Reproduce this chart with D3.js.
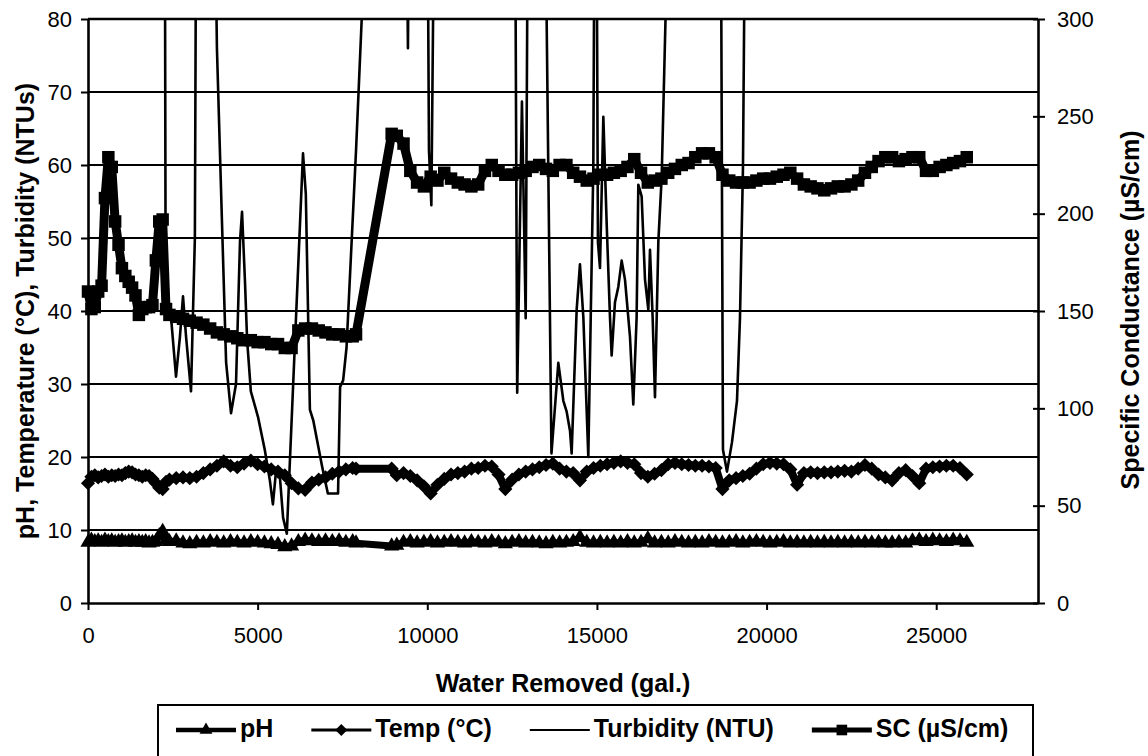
<!DOCTYPE html>
<html>
<head>
<meta charset="utf-8">
<script src="https://cdn.jsdelivr.net/npm/d3@7"></script>
<style>
  html, body { margin: 0; padding: 0; background: #fff; }
  svg text { font-family: "Liberation Sans", Arial, sans-serif; fill: #000; }
</style>
</head>
<body>
<svg id="chart" width="1148" height="756"></svg>
<script>
// ---- Data: water quality readings vs. cumulative water removed ----
const gallons = [
  0,100,200,300,400,500,600,700,800,900,1000,1100,1200,1300,1400,1500,1600,1700,1800,1900,2000,2100,2200,2300,2400,
  2600,2800,3000,3200,3400,3600,3800,4000,4200,4400,4600,4800,5000,5200,5400,5600,5800,6000,6200,6400,6600,6800,7000,7200,7400,7600,7800,
  7900,
  8950,
  9100,9300,9500,9700,9900,10100,10300,10500,10700,10900,
  11100,11300,11500,11700,11900,12100,12300,12500,12700,12900,
  13100,13300,13500,13700,13900,14100,14300,14500,14700,14900,
  15100,15300,15500,15700,15900,16100,16300,16500,16700,16900,
  17100,17300,17500,17700,17900,18100,18300,18500,18700,18900,
  19100,19300,19500,19700,19900,20100,20300,20500,20700,20900,
  21100,21300,21500,21700,21900,22100,22300,22500,22700,22900,
  23100,23300,23500,23700,23900,24100,24300,24500,24700,24900,
  25100,25300,25500,25700,25900
];

const phValues = [
  8.3,8.6,8.4,8.5,8.3,8.6,8.4,8.5,8.3,8.4,8.5,8.3,8.4,8.5,8.3,8.4,8.3,8.4,8.2,8.3,8.4,9.2,9.8,8.6,8.4,
  8.5,8.2,8.1,8.3,8.2,8.4,8.3,8.2,8.4,8.3,8.2,8.4,8.3,8.2,8.1,8.0,7.7,7.8,8.4,8.6,8.5,8.4,8.5,8.4,8.5,8.3,8.4,
  8.2,
  7.8,
  7.9,8.3,8.4,8.2,8.3,8.4,8.2,8.3,8.4,8.3,
  8.2,8.4,8.3,8.2,8.4,8.3,8.1,8.3,8.4,8.2,
  8.3,8.2,8.1,8.3,8.2,8.3,8.4,9.0,8.3,8.2,
  8.3,8.2,8.3,8.2,8.4,8.2,8.3,8.8,8.2,8.3,
  8.2,8.4,8.3,8.2,8.3,8.2,8.4,8.3,8.2,8.3,
  8.4,8.2,8.3,8.4,8.3,8.2,8.3,8.4,8.2,8.3,
  8.2,8.3,8.2,8.3,8.2,8.3,8.2,8.3,8.2,8.3,
  8.2,8.3,8.2,8.2,8.3,8.2,8.5,8.6,8.4,8.6,
  8.5,8.4,8.6,8.5,8.3
];

const tempValues = [
  16.4,17.3,17.5,17.2,17.4,17.6,17.3,17.5,17.4,17.6,17.5,17.8,18.0,17.9,17.6,17.5,17.3,17.5,17.4,17.0,16.4,15.8,15.6,16.6,16.9,
  17.1,17.2,17.1,17.3,17.8,18.3,18.8,19.4,18.8,18.6,19.1,19.5,19.0,18.7,18.3,18.0,17.5,16.4,15.7,15.5,16.5,16.9,17.2,17.7,18.0,18.3,18.5,
  18.4,
  18.4,
  17.5,17.8,17.4,16.8,16.0,15.0,16.2,17.0,17.6,17.8,
  18.0,18.4,18.5,18.8,18.7,17.6,15.6,16.9,17.6,18.0,
  18.3,18.6,18.9,19.1,18.4,18.0,17.8,16.8,18.0,18.5,
  18.8,19.0,19.2,19.4,19.2,19.0,17.8,17.3,17.7,18.2,
  19.0,19.2,19.0,18.9,18.8,18.8,18.7,18.5,15.6,16.8,
  17.1,17.4,17.7,18.4,19.0,19.2,19.1,19.0,18.3,16.2,
  17.8,17.9,17.8,17.9,17.9,18.0,18.1,18.0,18.4,18.9,
  18.4,17.6,17.2,16.8,17.8,18.2,17.4,16.4,18.4,18.6,
  18.7,18.8,18.8,18.5,17.6
];

const scValues = [
  160,151,152,160,163,208,229,224,196,184,172,168,165,162,158,148,151,152,152,153,176,196,197,151,148,
  147,146,145,144,143,141,139,138,137,136,135,135,134,134,133,133,131,131,140,141,141,140,139,138,138,137,137,
  138,
  241,
  240,236,222,216,214,219,217,221,218,216,
  215,214,215,222,225,222,220,220,221,222,
  224,225,223,222,225,225,221,219,217,218,
  220,220,221,222,224,228,221,216,217,218,
  221,223,225,226,229,231,231,229,220,217,
  216,216,216,217,218,218,219,220,221,218,
  215,214,213,212,213,214,214,215,217,221,
  224,227,229,229,227,228,229,229,222,222,
  224,225,226,227,229
];

// Turbidity was logged on its own schedule; readings above 80 run off the left scale.
const turbidityGallons = [
  0,600,1200,1800,2220,2290,2450,2594,2710,2800,2890,3036,3150,3230,3500,3700,3800,3950,4070,4215,
  4362,4480,4540,4627,4690,4800,5010,5210,5360,5450,5540,5660,5750,5860,6337,6420,6540,6640,6900,7070,
  7370,7430,7520,7620,7900,8950,9300,9400,9430,9460,9700,9990,10050,10120,10230,10800,11800,12560,12650,12790,
  12900,13000,13250,13470,13660,13862,14010,14108,14206,14255,14403,14500,14600,14746,14894,14960,15030,15090,15189,15287,
  15385,15434,15532,15630,15729,15827,15974,16072,16170,16220,16318,16417,16515,16564,16642,16711,16810,16908,17100,17500,
  18200,18600,18715,18833,18980,19128,19216,19305,19390,20000,21500,23500,25900
];
const turbidityValues = [
  230,260,300,270,200,40,39,31,36.5,42,36.5,29,50,150,260,110,76,52,33,26,
  30,49.5,53.6,44,36,29,25.5,21,16.8,13.5,18,17,11.7,9.5,61.6,56,26.5,25,18.7,15,
  15,29.6,30.5,35,62,175,130,90,76,95,150,110,62,54.5,110,190,170,130,28.8,68.7,
  39,130,170,100,20.5,32.9,27.7,26.2,23.6,20.5,40.2,46.4,39.1,20,59.8,130,49.4,45.9,66.6,52,
  39.1,33.9,41.2,43.3,46.9,44.3,36.5,27.2,39.1,57.3,55.7,44.3,40.2,48.4,39.1,28.2,49.5,58.3,95,180,
  220,160,21,18,22,27.7,39,59.8,110,180,240,210,230
];

const seriesNames = ["pH", "Temp (°C)", "Turbidity (NTU)", "SC (µS/cm)"];
const xTicks = [0, 5000, 10000, 15000, 20000, 25000];
const leftTicks = [0, 10, 20, 30, 40, 50, 60, 70, 80];
const rightTicks = [0, 50, 100, 150, 200, 250, 300];

// ---- Layout ----
const plot = { left: 88, right: 1038, top: 19, bottom: 603 };
const FONT = "Liberation Sans, Arial, sans-serif";

const x = d3.scaleLinear().domain([0, 28000]).range([plot.left, plot.right]);
const yL = d3.scaleLinear().domain([0, 80]).range([plot.bottom, plot.top]);
const yR = d3.scaleLinear().domain([0, 300]).range([plot.bottom, plot.top]);

const svg = d3.select("#chart");
svg.append("rect").attr("width", 1148).attr("height", 756).attr("fill", "#fff");

svg.append("defs").append("clipPath").attr("id", "plot-clip")
  .append("rect")
  .attr("x", plot.left).attr("y", plot.top)
  .attr("width", plot.right - plot.left).attr("height", plot.bottom - plot.top);

// Horizontal gridlines on the left scale
svg.append("g").selectAll("line")
  .data(leftTicks.filter(t => t > 0))
  .join("line")
  .attr("x1", plot.left).attr("x2", plot.right)
  .attr("y1", d => yL(d)).attr("y2", d => yL(d))
  .attr("stroke", "#000").attr("stroke-width", d => d === 80 ? 2.4 : 1.8);

// ---- Series ----
const rows = gallons.map((g, i) => ({ g, ph: phValues[i], temp: tempValues[i], sc: scValues[i] }));
const turbRows = turbidityGallons.map((g, i) => ({ g, v: turbidityValues[i] }));

const marks = svg.append("g");

function drawSeries(accessor, scale, lineWidth, symbolFn) {
  const line = d3.line().x(d => x(d.g)).y(d => scale(accessor(d)));
  marks.append("path").datum(rows)
    .attr("d", line).attr("fill", "none")
    .attr("stroke", "#000").attr("stroke-width", lineWidth)
    .attr("stroke-linejoin", "round");
  marks.append("g").selectAll("path")
    .data(rows).join("path")
    .attr("transform", d => symbolFn.transform(x(d.g), scale(accessor(d))))
    .attr("d", symbolFn.path)
    .attr("fill", "#000");
}

const triangle = {
  path: d3.symbol().type(d3.symbolTriangle).size(100)(),
  transform: (px, py) => `translate(${px},${py})`
};
const diamond = {
  path: d3.symbol().type(d3.symbolSquare).size(100)(),
  transform: (px, py) => `translate(${px},${py}) rotate(45)`
};
const square = {
  path: d3.symbol().type(d3.symbolSquare).size(156)(),
  transform: (px, py) => `translate(${px},${py})`
};

drawSeries(d => d.ph, yL, 7, triangle);
drawSeries(d => d.temp, yL, 8, diamond);

// Turbidity: thin line, clipped to the plotting area
marks.append("path").datum(turbRows)
  .attr("clip-path", "url(#plot-clip)")
  .attr("d", d3.line().x(d => x(d.g)).y(d => yL(d.v)))
  .attr("fill", "none").attr("stroke", "#000").attr("stroke-width", 2.6)
  .attr("stroke-linejoin", "round");

drawSeries(d => d.sc, yR, 9, square);

// ---- Axes ----
function styleAxis(g) {
  g.attr("font-family", FONT).attr("font-size", 22);
  g.select(".domain").attr("stroke", "#000").attr("stroke-width", 2.6);
  g.selectAll(".tick line").attr("stroke", "#000").attr("stroke-width", 2);
  g.selectAll(".tick text").attr("fill", "#000");
}

svg.append("g")
  .attr("transform", `translate(${plot.left},0)`)
  .call(d3.axisLeft(yL).tickValues(leftTicks).tickSize(7).tickSizeOuter(0).tickPadding(9))
  .call(styleAxis);

svg.append("g")
  .attr("transform", `translate(0,${plot.bottom})`)
  .call(d3.axisBottom(x).tickValues(xTicks).tickFormat(d3.format("d"))
    .tickSize(7).tickSizeOuter(0).tickPadding(17))
  .call(styleAxis);

const rightAxis = svg.append("g")
  .attr("transform", `translate(${plot.right},0)`)
  .call(d3.axisRight(yR).tickValues(rightTicks).tickSize(7).tickSizeOuter(0).tickPadding(12))
  .call(styleAxis);
rightAxis.selectAll(".tick line").attr("x1", -5);

// ---- Axis titles ----
svg.append("text")
  .attr("x", (plot.left + plot.right) / 2).attr("y", 692)
  .attr("text-anchor", "middle")
  .attr("font-family", FONT).attr("font-size", 25).attr("font-weight", "bold")
  .text("Water Removed (gal.)");

svg.append("text")
  .attr("transform", "translate(25,311) rotate(-90)")
  .attr("text-anchor", "middle").attr("dy", "0.35em")
  .attr("font-family", FONT).attr("font-size", 25).attr("font-weight", "bold")
  .text("pH, Temperature (°C), Turbidity (NTUs)");

svg.append("text")
  .attr("transform", "translate(1130,310) rotate(-90)")
  .attr("text-anchor", "middle").attr("dy", "0.35em")
  .attr("font-family", FONT).attr("font-size", 25).attr("font-weight", "bold")
  .text("Specific Conductance (µS/cm)");

// ---- Legend ----
const legend = svg.append("g");
legend.append("rect")
  .attr("x", 158).attr("y", 705).attr("width", 875).attr("height", 70)
  .attr("fill", "#fff").attr("stroke", "#000").attr("stroke-width", 2);

const legendSamples = [
  { width: 4.5, sym: triangle },
  { width: 3, sym: diamond },
  { width: 1.8, sym: null },
  { width: 5, sym: square }
];
let cursor = 176;
const sampleLen = 60, lineY = 730;
seriesNames.forEach((name, i) => {
  const s = legendSamples[i];
  legend.append("line")
    .attr("x1", cursor).attr("x2", cursor + sampleLen)
    .attr("y1", lineY).attr("y2", lineY)
    .attr("stroke", "#000").attr("stroke-width", s.width);
  if (s.sym) {
    legend.append("path")
      .attr("transform", s.sym.transform(cursor + sampleLen / 2, lineY) + " scale(0.85)")
      .attr("d", s.sym.path).attr("fill", "#000");
  }
  const t = legend.append("text")
    .attr("x", cursor + sampleLen + 4).attr("y", 737)
    .attr("font-family", FONT).attr("font-size", 25).attr("font-weight", "bold")
    .text(name);
  cursor += sampleLen + 4 + t.node().getComputedTextLength() + 38;
});
</script>
</body>
</html>
